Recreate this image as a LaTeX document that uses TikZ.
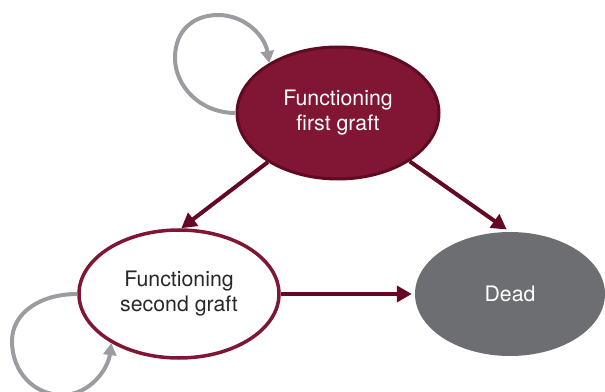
\documentclass[tikz,border=0pt]{standalone}
\usepackage{fontspec}
\setmainfont{TeX Gyre Heros}
\usetikzlibrary{shapes.geometric,arrows.meta}
\definecolor{maroon}{RGB}{128,21,52}
\definecolor{maroondark}{RGB}{96,10,35}
\definecolor{arrowred}{RGB}{100,8,35}
\definecolor{loopgray}{RGB}{155,156,160}
\definecolor{deadgray}{RGB}{109,110,113}
\definecolor{txtdark}{RGB}{40,40,40}
\tikzset{
  state/.style={ellipse, inner sep=0pt, align=center,
    font=\fontsize{21.3}{25}\selectfont},
  firststate/.style={state, fill=maroon, draw=maroondark, line width=3pt, text=white,
    minimum width=202pt, minimum height=132pt},
  secondstate/.style={state, fill=white, draw=maroon, line width=3.5pt, text=txtdark,
    minimum width=200pt, minimum height=128pt},
  deadstate/.style={state, fill=deadgray, text=white,
    minimum width=190pt, minimum height=124pt},
  trans/.style={draw=arrowred, line width=4pt, -{Triangle[length=15pt,width=16pt]}},
  selfloop/.style={draw=loopgray, line width=4pt, -{Triangle[length=12pt,width=13pt]}}
}
\begin{document}
\begin{tikzpicture}[x=1pt,y=1pt]
\useasboundingbox (0,0) rectangle (605,391);
\node[firststate] (first) at (338,278) {Functioning\\first graft};
\node[secondstate] (second) at (179,97) {Functioning\\second graft};
\node[deadstate] (dead) at (510,97) {Dead};

\draw[trans] (first.215) -- (second.88);
\draw[trans, shorten >=4pt] (first.-34) -- (dead.north);
\draw[trans, shorten >=3pt] (second.east) -- (dead.west);

\draw[selfloop] (first.west) .. controls (200,278) and (175,305) .. (175,333)
  .. controls (175,362) and (195,376) .. (218,376)
  .. controls (245,376) and (265,355) .. (first.144);
\draw[selfloop] (second.west) .. controls (40,97) and (12,78) .. (12,50)
  .. controls (12,18) and (35,-4) .. (62,-4)
  .. controls (90,-4) and (108,22) .. (second.216);
\end{tikzpicture}
\end{document}
